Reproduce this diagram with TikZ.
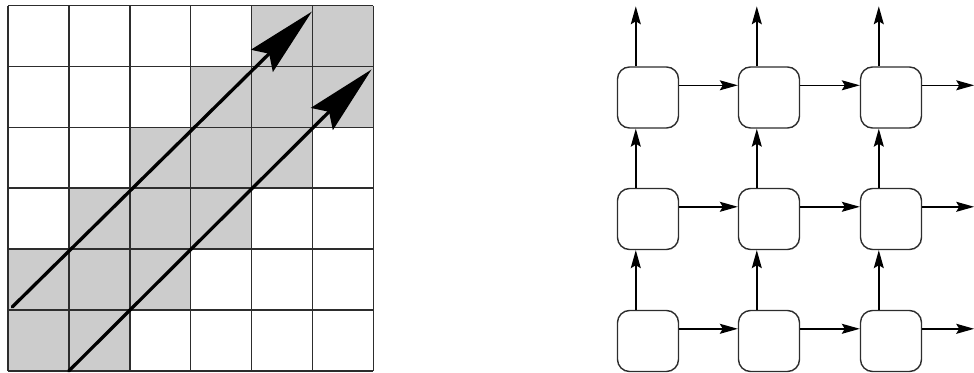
\documentclass[tikz,border=0pt]{standalone}
\usetikzlibrary{arrows.meta,calc}
\definecolor{cellgray}{RGB}{204,204,204}
\definecolor{gridline}{RGB}{45,45,45}
\tikzset{
  gridrule/.style={draw=gridline,line width=1.5pt},
  bigarrow/.style={line width=3.3pt,line cap=round,-{Stealth[length=70pt,width=31pt,inset=10pt]}},
  cellbox/.style={draw=gridline,line width=1.4pt,rounded corners=12pt,minimum width=61pt,minimum height=61pt,inner sep=0pt},
  link/.style={line width=1.4pt,-{Stealth[length=18pt,width=10pt,inset=3pt]}}
}
\begin{document}
\begin{tikzpicture}[x=1pt,y=-1pt]
\useasboundingbox (0,0) rectangle (974,372);

% ---- left: 6x6 grid with the shaded diagonal band ----
\begin{scope}[shift={(8,5.5)},x=60.9pt,y=-60.9pt]
  \foreach \r/\cols in {0/{4,5},1/{3,4,5},2/{2,3,4},3/{1,2,3},4/{0,1,2},5/{0,1}}{
    \foreach \c in \cols {
      \fill[cellgray] (\c,\r) rectangle ++(1,1);
    }
  }
  \foreach \k in {0,...,6}{
    \draw[gridrule] (\k,0) -- (\k,6);
    \draw[gridrule] (0,\k) -- (6,\k);
  }
  \coordinate (a1s) at (0.07,4.95);
  \coordinate (a1e) at (4.99,0.1);
  \coordinate (a2s) at (1,6);
  \coordinate (a2e) at (5.97,1.05);
  \draw[bigarrow] (a1s) -- (a1e);
  \draw[bigarrow] (a2s) -- (a2e);
\end{scope}

% ---- right: 3x3 array of cells ----
\foreach \r/\y in {0/97.5,1/219,2/341}{
  \foreach \c/\x in {0/648,1/769,2/891}{
    \node[cellbox] (b\r\c) at (\x,\y) {};
  }
}

% horizontal links
\foreach \r in {0,1,2}{
  \draw[link] ($(b\r0.north east)+(0,19)$) -- ($(b\r1.north west)+(0,19)$);
  \draw[link] ($(b\r1.north east)+(0,19)$) -- ($(b\r2.north west)+(0,19)$);
  \coordinate (out\r) at ($(b\r2.north east)+(52,19)$);
  \draw[link] ($(b\r2.north east)+(0,19)$) -- (out\r);
}

% vertical links
\foreach \c in {0,1,2}{
  \draw[link] ($(b2\c.north west)+(19,0)$) -- ($(b1\c.south west)+(19,0)$);
  \draw[link] ($(b1\c.north west)+(19,0)$) -- ($(b0\c.south west)+(19,0)$);
  \coordinate (top\c) at ($(b0\c.north west)+(19,-60)$);
  \draw[link] ($(b0\c.north west)+(19,0)$) -- (top\c);
}
\end{tikzpicture}
\end{document}
